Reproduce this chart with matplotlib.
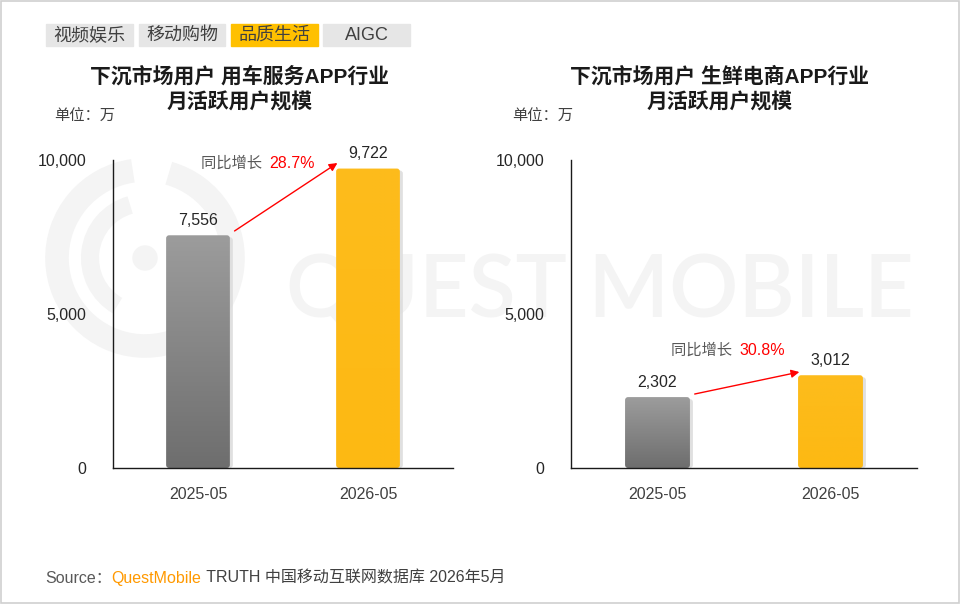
import matplotlib
matplotlib.use("Agg")
import matplotlib.pyplot as plt
import numpy as np
from matplotlib.patches import FancyBboxPatch, Rectangle, Arc, Ellipse
from matplotlib.colors import LinearSegmentedColormap

plt.rcParams['font.family'] = ['Liberation Sans', 'Noto Sans CJK SC', 'DejaVu Sans']

# ---------------- data ----------------
tabs = ["视频娱乐", "移动购物", "品质生活", "AIGC"]
active_tab = "品质生活"
categories = ["2025-05", "2026-05"]
titles = ["下沉市场用户 用车服务APP行业\n月活跃用户规模",
          "下沉市场用户 生鲜电商APP行业\n月活跃用户规模"]
values_car = [7556, 9722]
values_fresh = [2302, 3012]
growth = ["28.7%", "30.8%"]
yticks = [0, 5000, 10000]
unit_label = "单位：万"
source_parts = ["Source：", "QuestMobile", " TRUTH 中国移动互联网数据库 2026年5月"]

W, H = 960, 604
fig = plt.figure(figsize=(W / 100, H / 100), dpi=100)
fig.patch.set_facecolor("white")


def fx(px):
    return px / W


def fy(py):
    return 1 - py / H


# border
fig.add_artist(Rectangle((0.0008, 0.0012), 0.9984, 0.9976, transform=fig.transFigure,
                         fill=False, ec="#cfcfcf", lw=1.2, zorder=-10))

# ---------------- watermark ----------------
wm = "#f4f4f4"
fig.text(fx(600), fy(293), "QUEST MOBILE", fontsize=62, color=wm, family="Lato",
         weight="semibold", ha="center", va="center", zorder=-10)
cx, cy = fx(145), fy(258)
for r, t1, t2, lw in [(88, 95, 440, 17), (55, 100, 250, 13)]:
    fig.add_artist(Arc((cx, cy), 2 * r / W, 2 * r / H, theta1=t1, theta2=t2,
                       transform=fig.transFigure, color=wm, lw=lw, zorder=-10))
fig.add_artist(Ellipse((cx, cy), 24 / W, 24 / H, transform=fig.transFigure,
                       color=wm, zorder=-10))

# ---------------- tabs ----------------
tab_x = [46, 139, 231, 323]
tab_w = [87, 86, 87, 87]
for t, x0, w in zip(tabs, tab_x, tab_w):
    col = "#ffc000" if t == active_tab else "#e6e6e6"
    fig.add_artist(Rectangle((fx(x0), fy(46)), fx(w), 22 / H, transform=fig.transFigure,
                             color=col, zorder=1))
    fig.text(fx(x0 + w / 2), fy(35.5), t, fontsize=13, color="#404040",
             ha="center", va="center", zorder=2)

gray_cmap = LinearSegmentedColormap.from_list("g", ["#6e6e6e", "#9c9c9c"])
yellow_cmap = LinearSegmentedColormap.from_list("y", ["#fdb913", "#fdbc1c"])


def draw_panel(ax_rect, vals, title, title_x, unit_x, g, arrow_off, text_pos):
    ax = fig.add_axes(ax_rect)
    ax.set_facecolor("none")
    ax.set_xlim(-0.5, 1.5)
    ax.set_ylim(0, 10000)
    x = np.arange(len(vals))
    bw = 0.375
    bars = ax.bar(x, vals, width=bw, color="none", zorder=1)
    bbox = ax.get_position()
    ppx = 2.0 / (bbox.width * W)
    ppy = 10000 / (bbox.height * H)
    cmaps = [gray_cmap, yellow_cmap]
    for i, b in enumerate(bars):
        bx, by, bwid, bh = b.get_x(), b.get_y(), b.get_width(), b.get_height()
        sh = FancyBboxPatch((bx + 3 * ppx, by), bwid, bh - 2 * ppy,
                            boxstyle=f"round,pad=0,rounding_size={3 * ppx}",
                            mutation_aspect=ppy / ppx, fc="#d9d9d9", ec="none",
                            alpha=0.8, zorder=1)
        ax.add_patch(sh)
        p = FancyBboxPatch((bx, by), bwid, bh,
                           boxstyle=f"round,pad=0,rounding_size={3 * ppx}",
                           mutation_aspect=ppy / ppx, fc="none", ec="none", zorder=2)
        ax.add_patch(p)
        grad = np.linspace(0, 1, 100).reshape(-1, 1)
        im = ax.imshow(grad, cmap=cmaps[i], origin="lower", aspect="auto",
                       extent=(bx, bx + bwid, by, by + bh), zorder=2)
        im.set_clip_path(p)
        ax.text(x[i], vals[i] + 230, f"{vals[i]:,}", ha="center", va="bottom",
                fontsize=11.5, color="#262626", zorder=3)
    ax.set_xlim(-0.5, 1.5)
    ax.set_ylim(0, 10000)

    for s in ["top", "right"]:
        ax.spines[s].set_visible(False)
    for s in ["left", "bottom"]:
        ax.spines[s].set_color("#1a1a1a")
        ax.spines[s].set_linewidth(1.0)
    ax.set_yticks(yticks)
    ax.set_yticklabels([f"{v:,}" for v in yticks])
    ax.set_xticks(x)
    ax.set_xticklabels(categories)
    ax.tick_params(axis="y", length=0, pad=19, labelsize=11.5, labelcolor="#262626")
    ax.tick_params(axis="x", length=0, pad=14, labelsize=11.5, labelcolor="#404040")

    ax.annotate("", xy=(0.82, vals[1] + arrow_off[1]), xytext=(0.215, vals[0] + arrow_off[0]),
                arrowprops=dict(arrowstyle="-|>", color="#ff0000", lw=1.0,
                                mutation_scale=12, shrinkA=0, shrinkB=0), zorder=4)
    t1 = ax.text(text_pos[0], text_pos[1], "同比增长 ", fontsize=11, color="#595959",
                 ha="left", va="center", zorder=4)
    ax.annotate(g, xy=(1, 0.5), xycoords=t1, xytext=(2, 0), textcoords="offset points",
                fontsize=11.5, color="#ff0000", ha="left", va="center", zorder=4)

    fig.text(fx(title_x), fy(89.5), title, fontsize=15, weight="bold", color="#1a1a1a",
             ha="center", va="center", linespacing=1.35)
    fig.text(fx(unit_x), fy(117), unit_label, fontsize=11, color="#404040",
             ha="left", va="center")
    return ax


ax1 = draw_panel([fx(113), fy(468), fx(340), 308 / H], values_car, titles[0], 240, 54,
                 growth[0], (140, 180), (0.02, 9900))
ax2 = draw_panel([fx(571), fy(468), fx(346), 308 / H], values_fresh, titles[1], 720, 512,
                 growth[1], (100, 105), (0.08, 3800))

# source
t = fig.text(fx(45), fy(578), source_parts[0], fontsize=11.5, color="#595959",
             ha="left", va="center")
a = plt.annotate(source_parts[1], xy=(1, 0.5), xycoords=t, xytext=(0, 0),
                 textcoords="offset points", fontsize=11.5, color="#ff9900",
                 ha="left", va="center", annotation_clip=False)
plt.annotate(source_parts[2], xy=(1, 0.5), xycoords=a, xytext=(0, 0),
             textcoords="offset points", fontsize=11.5, color="#404040",
             ha="left", va="center", annotation_clip=False)

fig.savefig("out.png", dpi=100, facecolor="white")
